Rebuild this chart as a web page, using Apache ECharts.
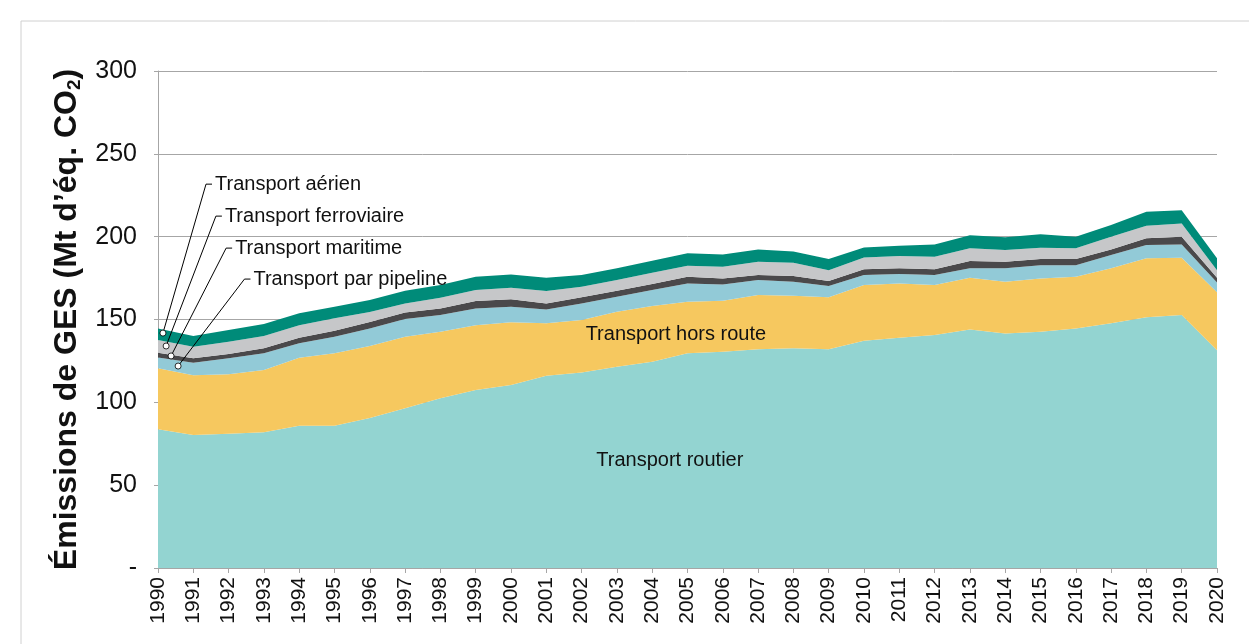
<!DOCTYPE html>
<html>
<head>
<meta charset="utf-8">
<script src="https://cdn.jsdelivr.net/npm/echarts@6/dist/echarts.min.js"></script>
<style>
  html, body { margin: 0; padding: 0; background: #fff; }
  #chart { width: 1249px; height: 644px; }
</style>
</head>
<body>
<div id="chart"></div>
<script>
const years = ['1990','1991','1992','1993','1994','1995','1996','1997','1998','1999','2000',
  '2001','2002','2003','2004','2005','2006','2007','2008','2009','2010',
  '2011','2012','2013','2014','2015','2016','2017','2018','2019','2020']

// Mt éq. CO2
const routier = [83.7,80.3,81.0,82.0,85.9,85.9,90.5,96.5,102.4,107.5,110.4,116.0,118.0,121.5,124.5,129.6,130.6,132.0,132.6,132.0,137.2,139.0,140.6,144.0,141.6,142.6,144.6,147.7,151.3,152.7,131.5]
const horsRoute = [36.8,36.0,35.9,37.5,41.0,43.7,43.5,43.1,40.2,39.1,37.9,31.7,31.7,33.2,33.6,31.1,30.7,32.8,31.7,31.4,33.6,32.8,30.2,31.2,31.2,32.2,31.2,33.3,35.6,34.6,34.9]
const pipeline = [6.6,7.6,9.7,10.1,8.7,10.0,10.5,10.7,10.1,10.1,9.4,8.4,10.0,9.0,9.7,11.1,9.9,9.0,8.5,6.8,6.0,5.6,6.0,5.7,8.2,8.0,7.0,8.0,8.1,8.0,6.0]
const maritime = [2.9,2.7,2.5,3.0,3.4,3.6,4.0,4.0,4.0,4.4,4.5,3.6,3.7,3.7,3.6,4.0,3.6,3.0,3.4,3.0,3.5,3.5,3.5,4.4,3.8,3.7,3.7,3.3,4.0,4.7,2.8]
const ferroviaire = [7.6,7.0,7.5,7.4,7.6,7.5,6.0,5.4,6.4,6.7,7.0,7.5,6.4,6.4,6.8,6.6,7.0,8.0,8.1,6.6,7.2,7.4,7.6,7.7,7.2,6.8,6.5,7.7,7.6,8.0,4.6]
const aerien = [6.9,6.4,7.0,7.3,7.1,7.0,7.2,7.7,7.7,8.0,8.0,8.0,7.0,7.1,7.3,7.6,7.5,7.5,6.7,6.7,6.0,6.2,7.4,7.8,7.7,8.1,7.0,7.0,8.4,8.0,7.2]

const yTicks = [0, 50, 100, 150, 200, 250, 300]

// callouts: [texte, position du texte (indice année, valeur), point visé (indice, valeur)]
const callouts = [
  ['Transport aérien', [1.53, 231.7], [0.14, 141.8]],
  ['Transport ferroviaire', [1.81, 212.4], [0.23, 134.0]],
  ['Transport maritime', [2.10, 193.1], [0.37, 128.0]],
  ['Transport par pipeline', [2.62, 174.4], [0.57, 121.9]]
]
const areaLabels = [
  ['Transport routier', [14.5, 65]],
  ['Transport hors route', [14.67, 141]]
]

const FONT = '"Liberation Sans", Arial, sans-serif'

const mkSeries = (name, data, color) => ({
  name,
  type: 'line',
  stack: 'total',
  data,
  symbol: 'none',
  lineStyle: { width: 0 },
  areaStyle: { color, opacity: 1 },
  itemStyle: { color },
  emphasis: { disabled: true }
})

const chart = echarts.init(document.getElementById('chart'), null, { renderer: 'canvas' })

chart.setOption({
  animation: false,
  backgroundColor: '#fff',
  grid: { left: 158, right: 32, top: 71, bottom: 76 },
  xAxis: {
    type: 'category',
    data: years,
    boundaryGap: false,
    axisLine: { lineStyle: { color: '#a6a6a6' } },
    axisTick: { show: true, length: 5, lineStyle: { color: '#a6a6a6' } },
    axisLabel: { rotate: 90, interval: 0, margin: 9, fontSize: 21, color: '#111', fontFamily: FONT },
    splitLine: { show: false }
  },
  yAxis: {
    type: 'value',
    min: yTicks[0],
    max: yTicks[yTicks.length - 1],
    interval: 50,
    axisLine: { show: true, lineStyle: { color: '#a6a6a6' } },
    axisTick: { show: true, length: 4, lineStyle: { color: '#a6a6a6' } },
    axisLabel: {
      margin: 21, fontSize: 25, color: '#111', fontFamily: FONT,
      formatter: v => (v === 0 ? '-' : String(v))
    },
    splitLine: { lineStyle: { color: '#a6a6a6', width: 1 } },
    name: '{a|Émissions de GES (Mt d’éq. CO}{s|2}{a|)}',
    nameLocation: 'middle',
    nameRotate: 90,
    nameGap: 42,
    nameTextStyle: {
      rich: {
        a: { fontSize: 32, fontWeight: 'bold', color: '#111', fontFamily: FONT, lineHeight: 35 },
        s: { fontSize: 19, fontWeight: 'bold', color: '#111', fontFamily: FONT, verticalAlign: 'bottom', lineHeight: 16 }
      }
    }
  },
  series: [
    mkSeries('Transport routier', routier, '#93d4d1'),
    mkSeries('Transport hors route', horsRoute, '#f6c85f'),
    mkSeries('Transport par pipeline', pipeline, '#92cad7'),
    mkSeries('Transport maritime', maritime, '#4a494b'),
    mkSeries('Transport ferroviaire', ferroviaire, '#c6c7c9'),
    mkSeries('Transport aérien', aerien, '#008b79')
  ]
})

// position en pixels d'un indice d'année fractionnaire et d'une valeur
const toPx = (idx, val) => {
  const a = chart.convertToPixel({ gridIndex: 0 }, [0, val])
  const b = chart.convertToPixel({ gridIndex: 0 }, [1, val])
  return [a[0] + (b[0] - a[0]) * idx, a[1]]
}

const graphics = [
  { type: 'rect', shape: { x: 21, y: 21, width: 1260, height: 660 }, style: { fill: null, stroke: '#d0d0d0', lineWidth: 1 }, silent: true }
]

callouts.forEach(([text, tpos, ppos]) => {
  const [tx, ty] = toPx(tpos[0], tpos[1])
  const [px, py] = toPx(ppos[0], ppos[1])
  graphics.push({
    type: 'polyline', z: 10,
    shape: { points: [[tx, ty], [tx - 6, ty], [px, py]] },
    style: { stroke: '#000', lineWidth: 1, fill: null }
  })
  graphics.push({
    type: 'circle', z: 11,
    shape: { cx: px, cy: py, r: 3 },
    style: { fill: '#fff', stroke: '#000', lineWidth: 0.8 }
  })
  graphics.push({
    type: 'text', z: 11, x: tx + 3, y: ty,
    style: { text, font: '20px ' + FONT, fill: '#111', verticalAlign: 'middle', align: 'left' }
  })
})

areaLabels.forEach(([text, pos]) => {
  const [x, y] = toPx(pos[0], pos[1])
  graphics.push({
    type: 'text', z: 11, x, y,
    style: { text, font: '20px ' + FONT, fill: '#111', verticalAlign: 'middle', align: 'center' }
  })
})

chart.setOption({ graphic: graphics })
</script>
</body>
</html>
